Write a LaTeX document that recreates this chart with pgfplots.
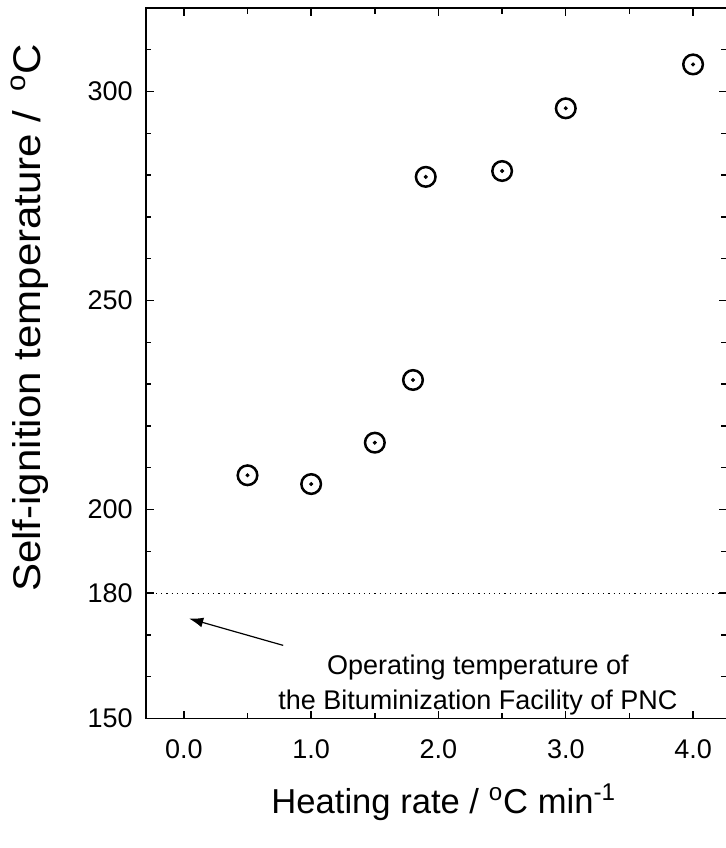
\documentclass[border=0pt]{standalone}
\usepackage{fontspec}
\setmainfont{Liberation Sans}
\usepackage{pgfplots}
\pgfplotsset{compat=1.18}
\usepackage{pgfplotstable}
\usetikzlibrary{arrows.meta}
\pgfplotstableread{
x y
0.5 208.2
1.0 206.1
1.5 216.0
1.8 231.0
1.9 279.6
2.5 281.0
3.0 296.0
4.0 306.5
}\datatable
\begin{document}
\begin{tikzpicture}
\begin{axis}[
  name=ax,
  scale only axis,
  width=290.6pt, height=355.3pt,
  xmin=-0.3, xmax=4.265,
  ymin=150, ymax=320,
  axis line style={line width=0.9pt},
  xtick={0,1,2,3,4},
  minor xtick={0.5,1.5,2.5,3.5},
  ytick={150,180,200,250,300},
  minor ytick={160,170,190,210,220,230,240,260,270,280,290,310},
  tick align=inside,
  major tick length=4pt,
  minor tick length=2.8pt,
  every tick/.style={black, line width=0.7pt},
  xticklabel style={/pgf/number format/fixed, /pgf/number format/precision=1, /pgf/number format/fixed zerofill, yshift=-7pt},
  yticklabel style={xshift=-3pt},
  /pgf/number format/assume math mode=true,
  tick label style={font=\fontsize{13.5}{16}\selectfont},
  xlabel={Heating rate / \textsuperscript{o}C min\textsuperscript{-1}},
  ylabel={\scalebox{1.09}[1.0]{Self-ignition temperature / \,\textsuperscript{o}C}},
  xlabel style={font=\fontsize{17.3}{21}\selectfont, at={(axis description cs:0.513,-0.118)}, anchor=center},
  ylabel style={font=\fontsize{19.3}{23}\selectfont, at={(axis description cs:-0.199,0.564)}, anchor=center, rotate=0},
  clip=false,
]
\addplot[black, dotted, line width=0.6pt] coordinates {(-0.3,180) (4.265,180)};
\addplot[only marks, mark=o, mark size=4.9pt, mark options={line width=1.25pt, black}] table[x=x,y=y] {\datatable};
\addplot[only marks, mark=*, mark size=0.8pt, mark options={black}] table[x=x,y=y] {\datatable};
\draw[-{Latex[length=7pt,width=5pt]}, line width=0.6pt] (axis cs:0.78,167.5) -- (axis cs:0.042,173.9);
\node[font=\fontsize{13.5}{16}\selectfont] at (axis cs:2.31,162.2) {Operating temperature of};
\node[font=\fontsize{13.5}{16}\selectfont] at (axis cs:2.31,153.8) {the Bituminization Facility of PNC};
\end{axis}
\pgfresetboundingbox
\useasboundingbox ([shift={(-72.85pt,-64.75pt)}]ax.south west) rectangle ([shift={(-0.65pt,4pt)}]ax.north east);
\end{tikzpicture}
\end{document}
